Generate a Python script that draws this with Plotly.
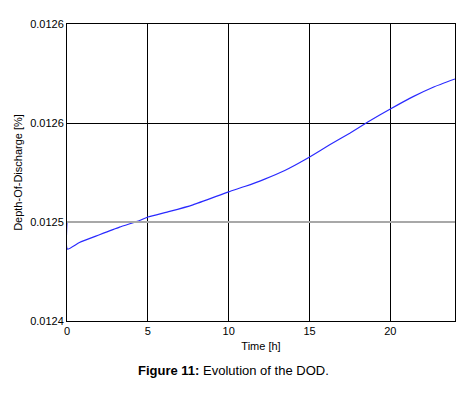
import plotly.graph_objects as go

# Data
time_h = [0.0, 0.02, 0.77, 2.01, 3.25, 4.49, 5.0, 6.35, 7.79, 10.0, 10.99, 12.23,
          13.47, 14.71, 16.25, 17.49, 18.63, 20.0, 21.41, 22.65, 24.0]
dod = [0.0125000, 0.0124836, 0.0124876, 0.0124923, 0.0124969, 0.0125009, 0.0125030,
       0.0125064, 0.0125104, 0.0125183, 0.0125215, 0.0125260, 0.0125312, 0.0125377,
       0.0125468, 0.0125538, 0.0125607, 0.0125685, 0.0125760, 0.0125817, 0.0125867]

x_ticks = [0, 5, 10, 15, 20]
y_ticks = [0.01244, 0.01250, 0.01256, 0.01262]
y_tick_labels = ["0.0124", "0.0125", "0.0126", "0.0126"]
ref_level = 0.01250

font = "Liberation Sans, Arial, sans-serif"

fig = go.Figure()
fig.add_trace(go.Scatter(x=time_h, y=dod, mode="lines",
                         line=dict(color="#2a2aff", width=1.2, shape="spline", smoothing=0.5),
                         showlegend=False))

fig.add_shape(type="line", xref="paper", yref="y", x0=0, x1=1, y0=ref_level, y1=ref_level,
              line=dict(color="#a8a8a8", width=2), layer="above")

# The page body has an 8px default margin, so the figure is sized to fit the window.
fig.update_layout(
    width=458, height=386,
    margin=dict(l=59, r=11, t=16, b=73),
    paper_bgcolor="white", plot_bgcolor="white",
    font=dict(family=font, size=11, color="black"),
    xaxis=dict(range=[0, 24], tickvals=x_ticks, showgrid=True, gridcolor="black", gridwidth=1,
               showline=True, linecolor="black", linewidth=1, mirror=True, zeroline=False,
               ticks="", automargin=False,
               title=dict(text="Time [h]", font=dict(size=11), standoff=6)),
    yaxis=dict(range=[y_ticks[0], y_ticks[-1]], tickvals=y_ticks, ticktext=y_tick_labels,
               showgrid=True, gridcolor="black", gridwidth=1,
               showline=True, linecolor="black", linewidth=1, mirror=True, zeroline=False,
               ticks="", automargin=False,
               title=dict(text="Depth-Of-Discharge [%]", font=dict(size=11), standoff=5)),
)

fig.add_annotation(xref="paper", yref="paper", x=0.43, y=-0.165, xanchor="center", yanchor="middle",
                   text="<b>Figure 11:</b> Evolution of the DOD.", showarrow=False,
                   font=dict(size=13, family=font))

fig.write_html("out.html")
